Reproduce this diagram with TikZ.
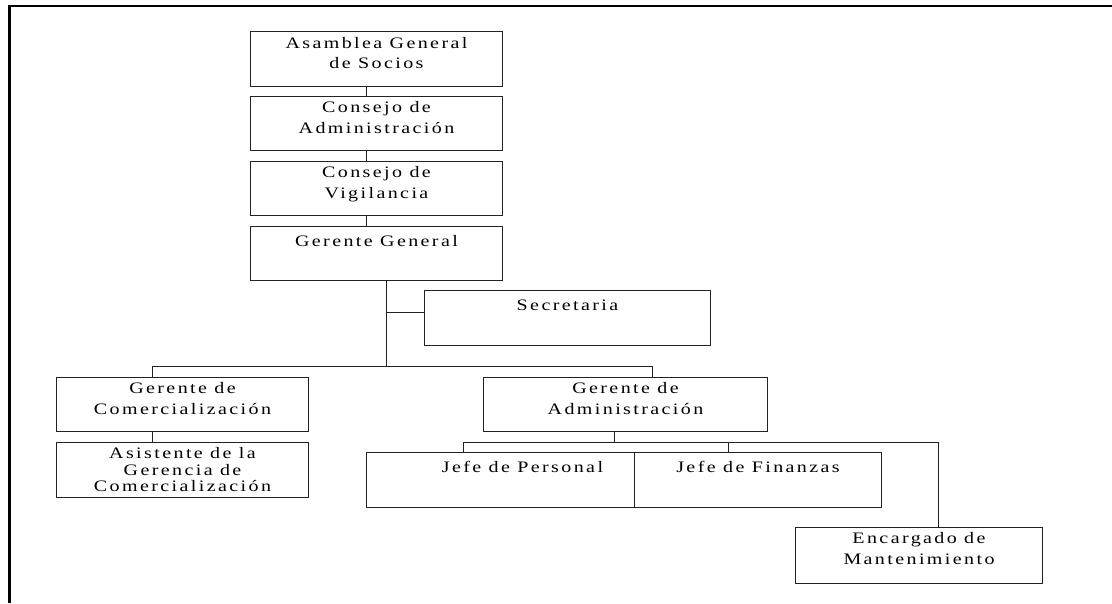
\documentclass[tikz,border=0pt]{standalone}
\usepackage{fontspec}
\setmainfont{Liberation Serif}[FakeStretch=1.25, LetterSpace=15]
\definecolor{ink}{HTML}{222222}

% box body: width, height, first-baseline drop, line pitch, text
\newcommand\orgcell[5]{%
  \parbox[t][#2][t]{#1}{\centering\baselineskip=#4\relax
    \rule{0pt}{#3}#5\par}}

\begin{document}
\begin{tikzpicture}[x=1pt,y=-1pt,
  orgbox/.style={draw=ink, line width=1pt, inner sep=0pt, anchor=north west,
                 font=\fontsize{16}{20}\selectfont},
  link/.style={draw=ink, line width=1pt},
  frame/.style={draw=black, line width=2.6pt}]
\useasboundingbox (0,0) rectangle (1112,603);

% outer frame (top and left edges)
\draw[frame] (9.5,603) -- (9.5,6) -- (1112,6);

% top chain
\node[orgbox] (asam) at (250,31)  {\orgcell{252pt}{55pt}{17pt}{19.5pt}{Asamblea General\\de Socios}};
\node[orgbox] (cadm) at (250,96)  {\orgcell{252pt}{54pt}{16pt}{20.5pt}{Consejo de\\Administración}};
\node[orgbox] (cvig) at (250,161) {\orgcell{252pt}{54pt}{16pt}{20.5pt}{Consejo de\\Vigilancia}};
\node[orgbox] (ggen) at (250,226) {\orgcell{252pt}{54pt}{19.5pt}{20pt}{Gerente General}};
\node[orgbox] (secr) at (424,290) {\orgcell{286pt}{55pt}{20pt}{20pt}{Secretaria}};

% second level
\node[orgbox] (gcom) at (56,377)  {\orgcell{252pt}{54pt}{15.5pt}{21pt}{Gerente de\\Comercialización}};
\node[orgbox] (asis) at (56,442)  {\orgcell{252pt}{55pt}{16pt}{16.5pt}{Asistente de la\\Gerencia de\\Comercialización}};
\node[orgbox] (gadm) at (483,377) {\orgcell{284pt}{54pt}{15.5pt}{21pt}{Gerente de\\Administración}};

% third level
\node[orgbox] (jper) at (366,452) {\orgcell{268pt}{55pt}{20pt}{20pt}{\hspace*{44pt}Jefe de Personal}};
\node[orgbox] (jfin) at (634,452) {\orgcell{247pt}{55pt}{20pt}{20pt}{Jefe de Finanzas}};
\node[orgbox] (enca) at (795,527) {\orgcell{247pt}{56pt}{16pt}{21pt}{Encargado de\\Mantenimiento}};

% junction points
\coordinate (spine) at (366,0);
\coordinate (hub)   at (386,366);
\coordinate (sj)    at (386,312);
\coordinate (bl)    at (152,366);
\coordinate (br)    at (652,366);
\coordinate (al)    at (463,442);
\coordinate (am)    at (614,442);
\coordinate (af)    at (728,442);
\coordinate (ar)    at (938,442);

% top chain links
\draw[link] (asam.south -| spine) -- (cadm.north -| spine);
\draw[link] (cadm.south -| spine) -- (cvig.north -| spine);
\draw[link] (cvig.south -| spine) -- (ggen.north -| spine);

% general manager trunk and secretary
\draw[link] (ggen.south -| hub) -- (hub);
\draw[link] (sj) -- (sj -| secr.west);

% bus to the two managers
\draw[link] (bl) -- (br);
\draw[link] (bl) -- (bl |- gcom.north);
\draw[link] (br) -- (br |- gadm.north);
\draw[link] (bl |- gcom.south) -- (bl |- asis.north);

% administration branch
\draw[link] (am |- gadm.south) -- (am);
\draw[link] (al) -- (ar) -- (ar |- enca.north);
\draw[link] (al) -- (al |- jper.north);
\draw[link] (af) -- (af |- jfin.north);
\end{tikzpicture}
\end{document}
